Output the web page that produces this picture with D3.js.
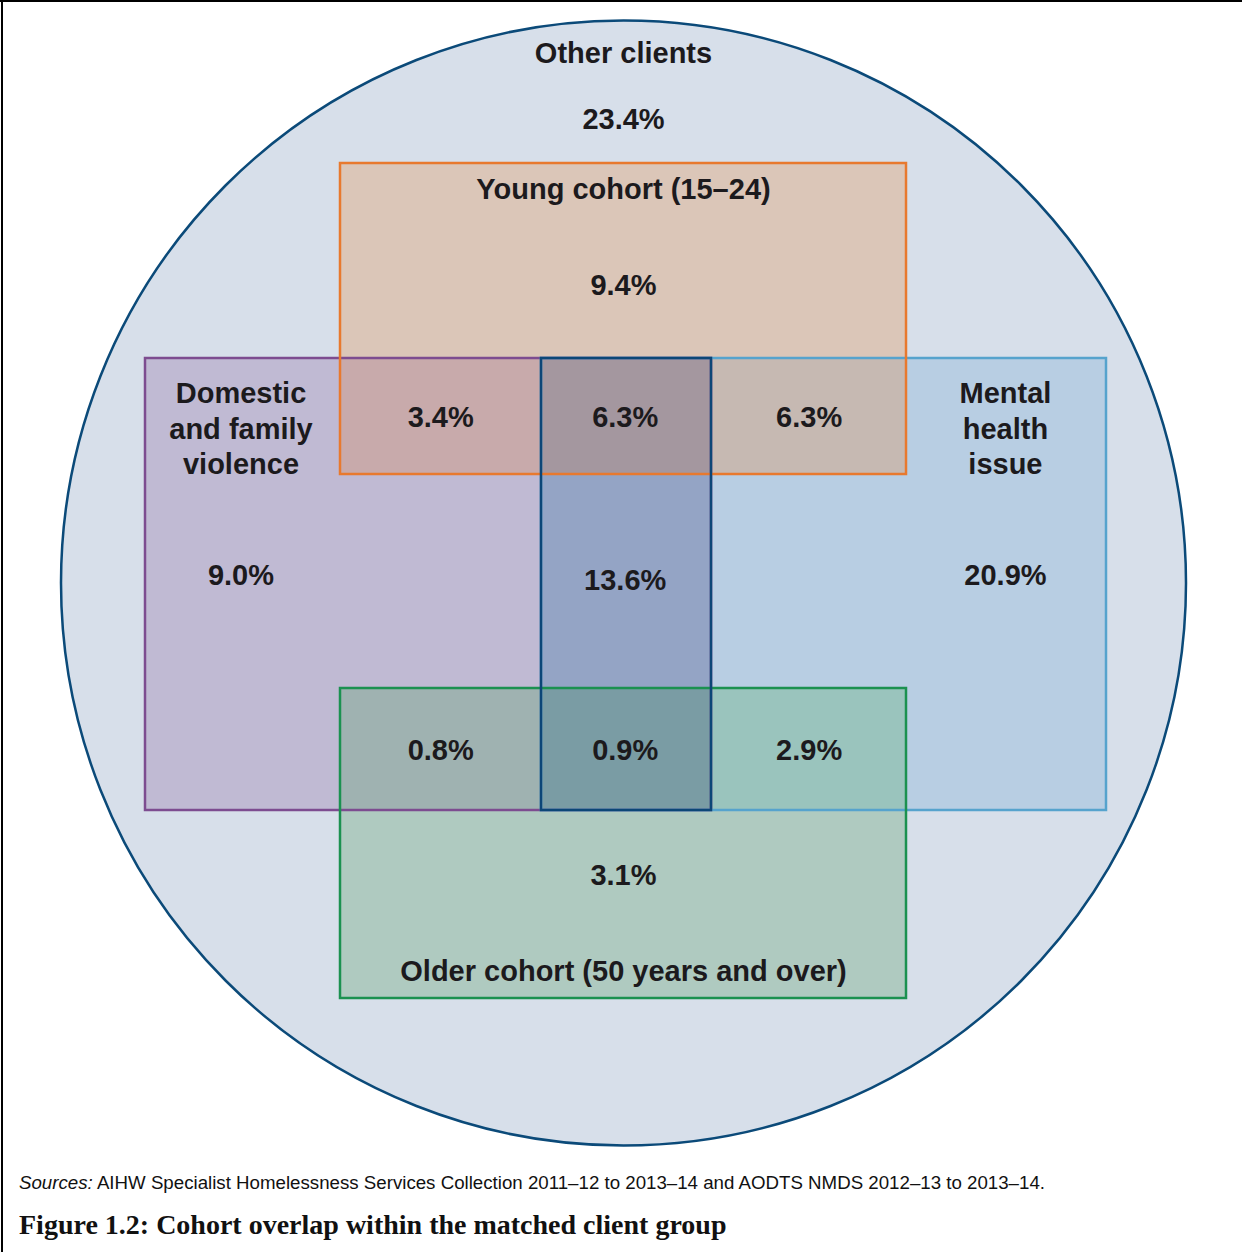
<!DOCTYPE html>
<html>
<head>
<meta charset="utf-8">
<script src="https://cdn.jsdelivr.net/npm/d3@7"></script>
<style>
  html, body { margin: 0; padding: 0; background: #fff; }
  svg { display: block; }
</style>
</head>
<body>
<script>
// ---------- DATA ----------
const setKeys   = ["Y", "D", "M", "O"];
const setNames  = ["Young cohort (15–24)", "Domestic and family violence", "Mental health issue", "Older cohort (50 years and over)"];
const regionKeys   = ["none", "Y", "D", "M", "YD", "YDM", "YM", "DM", "DO", "DMO", "MO", "O"];
const regionValues = [23.4, 9.4, 9.0, 20.9, 3.4, 6.3, 6.3, 13.6, 0.8, 0.9, 2.9, 3.1];
const outerLabel = "Other clients";
const sourceNote = "AIHW Specialist Homelessness Services Collection 2011–12 to 2013–14 and AODTS NMDS 2012–13 to 2013–14.";
const figureTitle = "Figure 1.2: Cohort overlap within the matched client group";

// ---------- LAYOUT (unit space: circle of radius 1) ----------
const W = 1242, H = 1252;
const x = d3.scaleLinear().domain([-1, 1]).range([61, 1186]);
const y = d3.scaleLinear().domain([-1, 1]).range([20.5, 1145.5]);
const setExtents = {
  Y: { x0: -0.504, x1: 0.502, y0: -0.747, y1: -0.194 },
  D: { x0: -0.851, x1: 0.156, y0: -0.400, y1: 0.404 },
  M: { x0: -0.147, x1: 0.858, y0: -0.400, y1: 0.404 },
  O: { x0: -0.504, x1: 0.502, y0: 0.187,  y1: 0.738 }
};
const setStroke = { Y: "#e8792e", D: "#7d4c90", M: "#56a3cd", O: "#1b9150" };
const regionFill = {
  none: "#d7dfea", Y: "#dbc6b8", D: "#c0bad3", M: "#b8cee3",
  YD: "#c8aaab", YDM: "#a4979f", YM: "#c6b9b2", DM: "#94a4c5",
  DO: "#9fb2b1", DMO: "#7a9ca4", MO: "#9ac4bd", O: "#afcac0"
};
const labelPos = {
  none: [0, -0.825], Y: [0, -0.53], D: [-0.68, -0.015], M: [0.679, -0.015],
  YD: [-0.325, -0.295], YDM: [0.003, -0.295], YM: [0.33, -0.295], DM: [0.003, -0.005],
  DO: [-0.325, 0.297], DMO: [0.003, 0.297], MO: [0.33, 0.297], O: [0, 0.518]
};

const svg = d3.select("body").append("svg").attr("width", W).attr("height", H);

// frame (top + left)
svg.append("line").attr("x1", 0).attr("x2", W).attr("y1", 1).attr("y2", 1).attr("stroke", "#000").attr("stroke-width", 2);
svg.append("line").attr("x1", 2).attr("x2", 2).attr("y1", 0).attr("y2", H).attr("stroke", "#000").attr("stroke-width", 2);

// outer circle
svg.append("circle").attr("cx", x(0)).attr("cy", y(0)).attr("r", x(1) - x(0))
  .attr("fill", regionFill.none).attr("stroke", "#0b4a79").attr("stroke-width", 2.5);

// grid cells of the overlapping rectangles
const xs = Array.from(new Set(setKeys.flatMap(k => [setExtents[k].x0, setExtents[k].x1]))).sort((a, b) => a - b);
const ys = Array.from(new Set(setKeys.flatMap(k => [setExtents[k].y0, setExtents[k].y1]))).sort((a, b) => a - b);
const cells = [];
for (let i = 0; i < xs.length - 1; i++) {
  for (let j = 0; j < ys.length - 1; j++) {
    const cx = (xs[i] + xs[i + 1]) / 2, cy = (ys[j] + ys[j + 1]) / 2;
    const key = setKeys.filter(k => {
      const e = setExtents[k];
      return cx > e.x0 && cx < e.x1 && cy > e.y0 && cy < e.y1;
    }).join("");
    if (key) cells.push({ x0: xs[i], x1: xs[i + 1], y0: ys[j], y1: ys[j + 1], key });
  }
}
svg.append("g").attr("shape-rendering", "crispEdges").selectAll("rect").data(cells).join("rect")
  .attr("x", d => Math.round(x(d.x0))).attr("y", d => Math.round(y(d.y0)))
  .attr("width", d => Math.round(x(d.x1)) - Math.round(x(d.x0)))
  .attr("height", d => Math.round(y(d.y1)) - Math.round(y(d.y0)))
  .attr("fill", d => regionFill[d.key] || "#ccc");

// outlines
const outlineOrder = ["D", "M", "Y", "O"];
svg.append("g").selectAll("rect").data(outlineOrder).join("rect")
  .attr("x", k => Math.round(x(setExtents[k].x0))).attr("y", k => Math.round(y(setExtents[k].y0)))
  .attr("width", k => Math.round(x(setExtents[k].x1)) - Math.round(x(setExtents[k].x0)))
  .attr("height", k => Math.round(y(setExtents[k].y1)) - Math.round(y(setExtents[k].y0)))
  .attr("fill", "none").attr("stroke", k => setStroke[k]).attr("stroke-width", 2.5);
// intersection of D and M
const dm = {
  x0: Math.max(setExtents.D.x0, setExtents.M.x0), x1: Math.min(setExtents.D.x1, setExtents.M.x1),
  y0: Math.max(setExtents.D.y0, setExtents.M.y0), y1: Math.min(setExtents.D.y1, setExtents.M.y1)
};
svg.append("rect").attr("x", Math.round(x(dm.x0))).attr("y", Math.round(y(dm.y0)))
  .attr("width", Math.round(x(dm.x1)) - Math.round(x(dm.x0)))
  .attr("height", Math.round(y(dm.y1)) - Math.round(y(dm.y0)))
  .attr("fill", "none").attr("stroke", "#0c4677").attr("stroke-width", 2.5);

// text
const font = "'Liberation Sans', Arial, Helvetica, sans-serif";
const txt = svg.append("g").attr("font-family", font).attr("font-weight", "bold")
  .attr("font-size", 29).attr("fill", "#1c1a1d").attr("text-anchor", "middle");

txt.selectAll("text.val").data(regionKeys).join("text").attr("class", "val")
  .attr("x", k => x(labelPos[k][0])).attr("y", k => y(labelPos[k][1]))
  .attr("dy", "0.35em")
  .text((k, i) => d3.format(".1f")(regionValues[i]) + "%");

// set titles
txt.append("text").attr("x", x(0)).attr("y", y(-0.943)).attr("dy", "0.35em").text(outerLabel);
txt.append("text").attr("x", x(0)).attr("y", y(-0.701)).attr("dy", "0.35em").text(setNames[0]);
txt.append("text").attr("x", x(0)).attr("y", y(0.689)).attr("dy", "0.35em").text(setNames[3]);
const multi = [
  { lines: ["Domestic", "and family", "violence"], cx: -0.68 },
  { lines: ["Mental", "health", "issue"], cx: 0.679 }
];
multi.forEach(m => {
  m.lines.forEach((l, i) => {
    txt.append("text").attr("x", x(m.cx)).attr("y", y(-0.338) + i * 35.5).attr("dy", "0.35em").text(l);
  });
});

// notes
const note = svg.append("text").attr("x", 19).attr("y", 1189)
  .attr("font-family", font).attr("font-size", 18.7).attr("fill", "#111");
note.append("tspan").attr("font-style", "italic").text("Sources:");
note.append("tspan").text(" " + sourceNote);

svg.append("text").attr("x", 19).attr("y", 1234)
  .attr("font-family", "'Liberation Serif', 'Times New Roman', serif").attr("font-weight", "bold")
  .attr("font-size", 28).attr("fill", "#111").text(figureTitle);
</script>
</body>
</html>
